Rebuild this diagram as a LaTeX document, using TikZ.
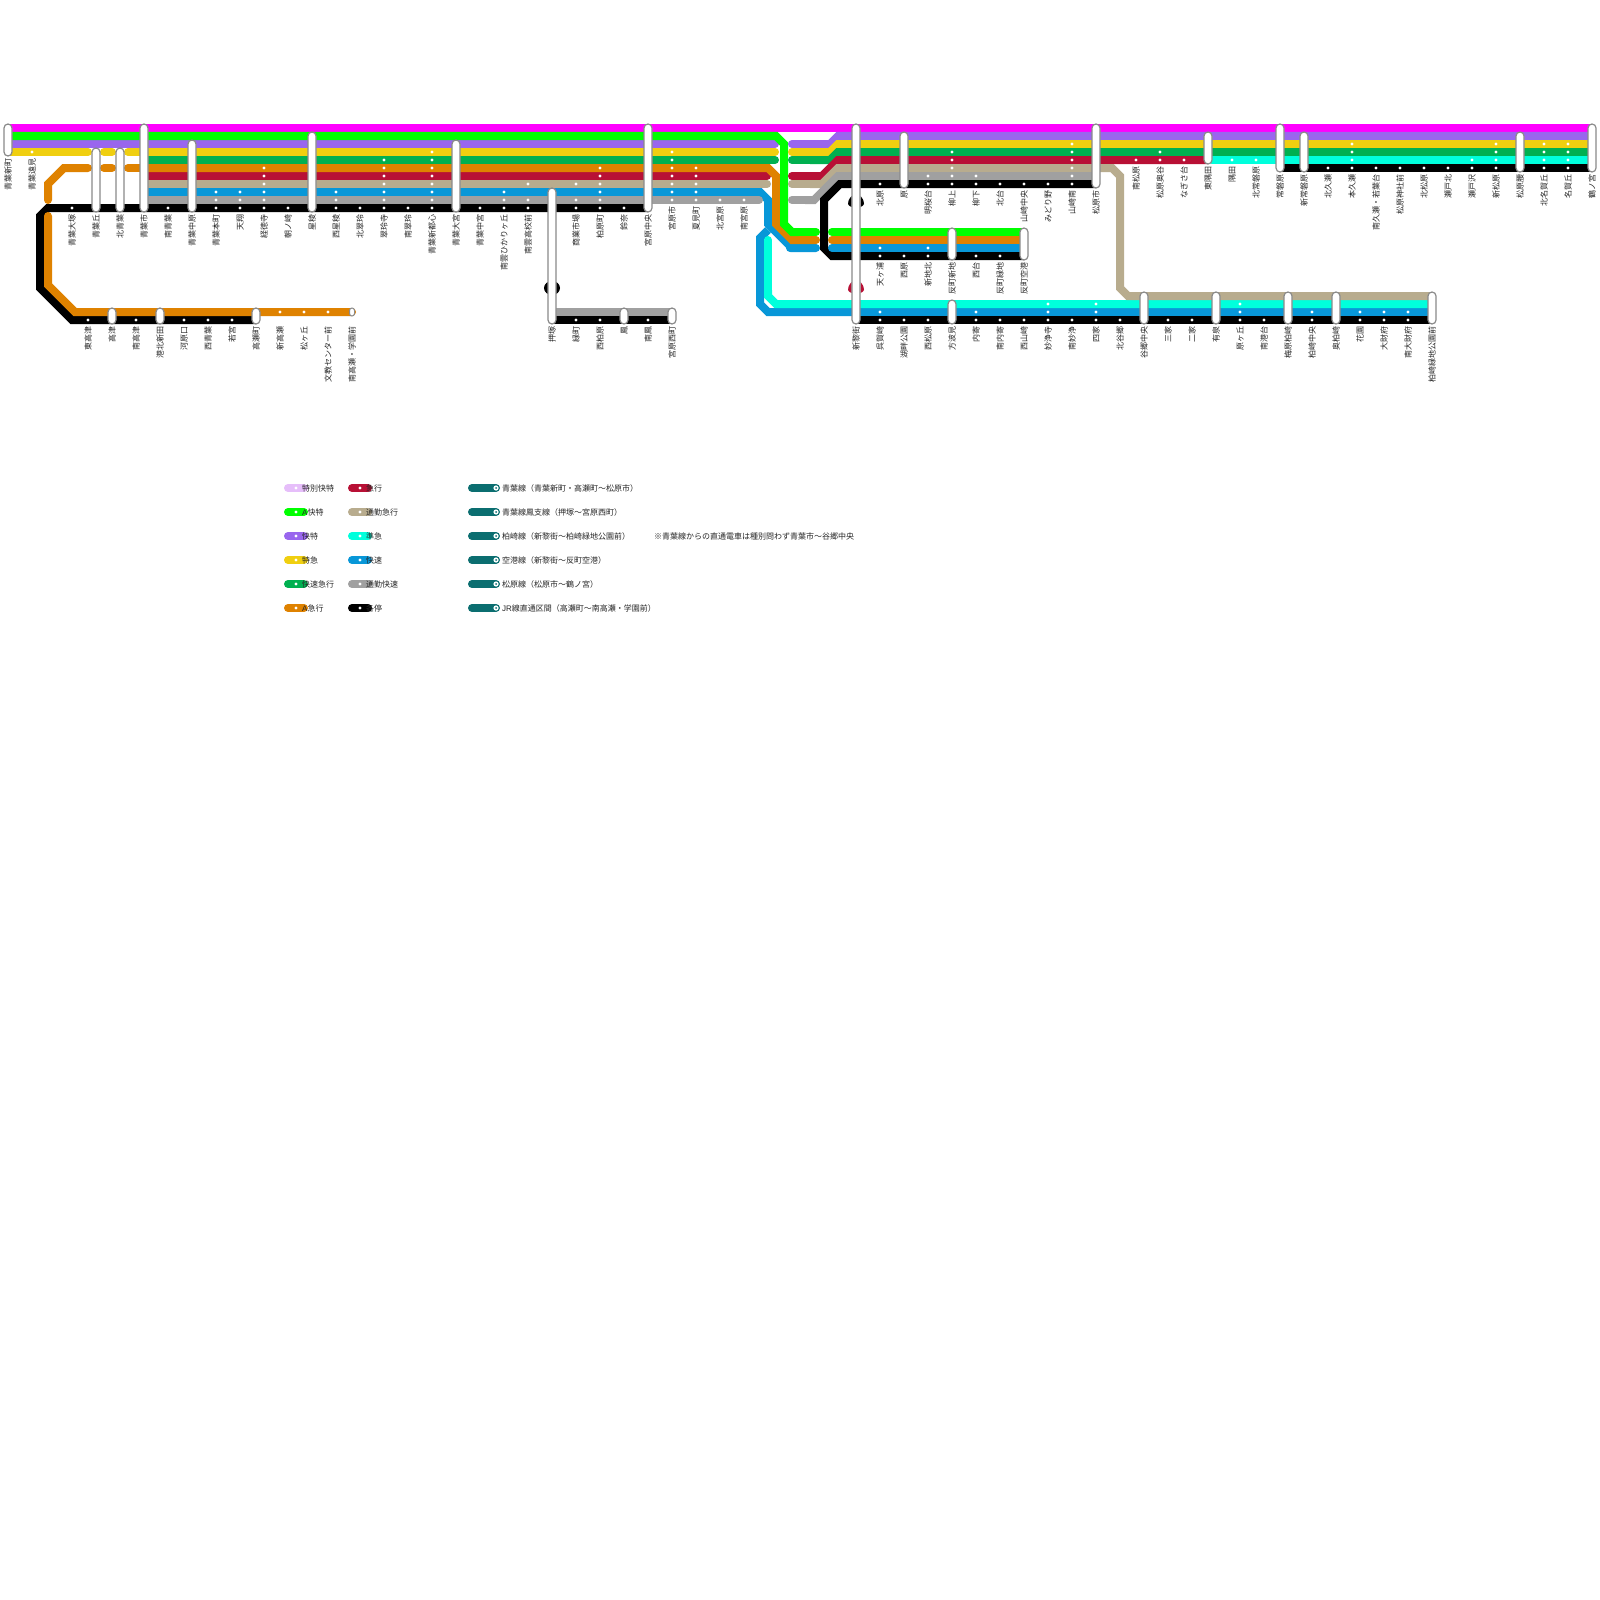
\documentclass[tikz,border=0pt]{standalone}
\usepackage{fontspec}
\setmainfont{Noto Sans CJK JP}
\newfontfamily\latf{Liberation Sans}
\definecolor{cMag}{HTML}{FF00FF}
\definecolor{cLav}{HTML}{E6BEFA}
\definecolor{cGrn}{HTML}{00FF00}
\definecolor{cPur}{HTML}{9966EE}
\definecolor{cYel}{HTML}{F0CF10}
\definecolor{cDgr}{HTML}{00B050}
\definecolor{cOra}{HTML}{DF8200}
\definecolor{cRed}{HTML}{B81035}
\definecolor{cTan}{HTML}{B8AC8E}
\definecolor{cCya}{HTML}{00FFDC}
\definecolor{cBlu}{HTML}{0897D8}
\definecolor{cGry}{HTML}{A0A0A0}
\definecolor{cTea}{HTML}{0B6E70}
\definecolor{cEdg}{HTML}{8A8A8A}
\tikzset{
  track/.style={line width=8pt,line join=miter,miter limit=4},
  rtrack/.style={track,line cap=round},
  lbl/.style={rotate=90,anchor=east,inner sep=0pt,font=\fontsize{8}{8}\selectfont,text height=7pt,text depth=1pt,text=black!85},
  leg/.style={anchor=west,inner sep=0pt,font=\fontsize{8}{8}\selectfont,text height=7pt,text depth=1pt,text=black!85},
  halt/.style={fill=white,draw=none},
  capsule/.style={fill=white,draw=cEdg,line width=1.2pt,rounded corners=4pt},
}
\newcommand{\caps}[3]{\draw[capsule] ({#1-4},#2) rectangle ({#1+4},#3);}
% crescent pair beside a capsule, centre x #1, top y #2, colour #3
\newcommand{\horns}[3]{%
  \fill[#3] ({#1-4.5},#2) .. controls ({#1-7},{#2+3}) and ({#1-8.5},{#2+6}) .. ({#1-8},{#2+8})
     .. controls ({#1-7.5},{#2+9.5}) and ({#1-6},{#2+10.5}) .. ({#1-4.5},{#2+11}) -- cycle;
  \fill[#3] ({#1+4.5},#2) .. controls ({#1+7},{#2+3}) and ({#1+8.5},{#2+6}) .. ({#1+8},{#2+8})
     .. controls ({#1+7.5},{#2+9.5}) and ({#1+6},{#2+10.5}) .. ({#1+4.5},{#2+11}) -- cycle;}
\begin{document}
\begin{tikzpicture}[x=1pt,y=-1pt]
\useasboundingbox (0,0) rectangle (1600,1600);
\fill[white] (0,0) rectangle (1600,1600);

% ---- blue + cyan junction (lowest)
\draw[track,cBlu] (744,192) -- (760,192) -- (768,200) -- (768,224) -- (792,248) -- (816,248);
\draw[rtrack,cBlu] (790,248) -- (816,248);
\draw[track,cBlu] (768,230) -- (760,238) -- (760,304) -- (768,312) -- (1432,312);
\draw[rtrack,cCya] (768,240) -- (768,296);
\draw[track,cCya] (768,290) -- (768,296) -- (776,304) -- (1432,304);

% ---- trunk
\draw[rtrack,cYel] (8,152) -- (88,152);
\draw[rtrack,cYel] (104,152) -- (112,152);
\draw[rtrack,cYel] (128,152) -- (144,152);
\draw[rtrack,cYel] (144,152) -- (775,152);
\draw[rtrack,cDgr] (144,160) -- (775,160);
\draw[track,cMag] (8,128) -- (1592,128);
\draw[track,cPur] (8,144) -- (760,144);
\draw[rtrack,cPur] (750,144) -- (775,144);
\draw[track,cRed] (144,176) -- (760,176);
\draw[rtrack,cRed] (750,176) -- (767,176);
\draw[track,cTan] (144,184) -- (760,184);
\draw[rtrack,cTan] (750,184) -- (767,184);
\draw[track,cBlu] (144,192) -- (760,192);
\draw[track,cGry] (144,200) -- (750,200);
\draw[rtrack,cGry] (740,200) -- (759,200);
\draw[track,black] (648,208) -- (48,208) -- (40,216) -- (40,288) -- (72,320) -- (256,320);
% orange, left end and bottom
\draw[rtrack,cOra] (48,200) -- (48,184) -- (64,168) -- (88,168);
\draw[rtrack,cOra] (104,168) -- (112,168);
\draw[rtrack,cOra] (128,168) -- (144,168);
\draw[track,cOra] (144,168) -- (768,168) -- (776,176) -- (776,224) -- (792,240) -- (816,240);
\draw[rtrack,cOra] (48,216) -- (48,285) -- (75,312) -- (352,312);
% green over everything in the centre
\draw[track,cGrn] (8,136) -- (776,136) -- (784,144) -- (784,224) -- (792,232) -- (816,232);
\draw[rtrack,cGrn] (800,232) -- (816,232);
\draw[rtrack,cOra] (800,240) -- (816,240);

% ---- centre to the right
\draw[rtrack,cPur] (792,144) -- (830,144);
\draw[track,cPur] (810,144) -- (830,144) -- (838,136) -- (1592,136);
\draw[rtrack,cYel] (792,152) -- (830,152);
\draw[track,cYel] (810,152) -- (830,152) -- (838,144) -- (1592,144);
\draw[rtrack,cDgr] (792,160) -- (830,160);
\draw[track,cDgr] (810,160) -- (830,160) -- (838,152) -- (1592,152);
\draw[rtrack,cRed] (792,176) -- (822,176);
\draw[track,cRed] (810,176) -- (822,176) -- (838,160) -- (1208,160);
\draw[rtrack,cTan] (792,184) -- (822,184);
\draw[track,cTan] (810,184) -- (822,184) -- (838,168) -- (1112,168) -- (1120,176) -- (1120,288) -- (1128,296) -- (1432,296);
\draw[rtrack,cGry] (792,200) -- (814,200);
\draw[track,cGry] (805,200) -- (814,200) -- (838,176) -- (1096,176);
\draw[track,black] (1096,184) -- (840,184) -- (824,200) -- (824,248) -- (832,256) -- (1024,256);
\draw[rtrack,cCya] (1212,160) -- (1240,160);
\draw[track,cCya] (1220,160) -- (1592,160);
\draw[track,black] (1280,168) -- (1592,168);

% airport line
\draw[rtrack,cGrn] (832,232) -- (850,232);
\draw[track,cGrn] (840,232) -- (1024,232);
\draw[rtrack,cOra] (832,240) -- (850,240);
\draw[track,cOra] (840,240) -- (1024,240);
\draw[rtrack,cBlu] (832,248) -- (850,248);
\draw[track,cBlu] (840,248) -- (1024,248);
% kashiwazaki black
\draw[track,black] (856,320) -- (1432,320);
% branch
\draw[track,cGry] (552,312) -- (672,312);
\draw[track,black] (552,320) -- (672,320);

% crescents behind the long capsules
\fill[black] (552,288) ellipse (8 and 7);
\horns{856}{196}{black}
\horns{856}{282}{cRed}

% ---- capsules
\foreach \x/\a/\b in {8/124/156,96/148/212,120/148/212,144/124/212,192/140/212,312/132/212,456/140/212,
  552/188/324,648/124/212,112/308/324,160/308/324,256/308/324,624/308/324,672/308/324,
  856/124/324,904/132/188,1096/124/188,1208/132/164,1280/124/172,1304/132/172,1520/132/172,1592/124/172,
  952/228/260,1024/228/260,952/300/324,1144/292/324,1216/292/324,1288/292/324,1336/292/324,1432/292/324}
  {\caps{\x}{\a}{\b}}
\draw[fill=white,draw=cEdg,line width=1pt,rounded corners=2.5pt] (349.5,308) rectangle (354.5,316);

% ---- stops
\foreach \x/\ys in {32/{152},72/{208},168/{208},216/{192,200,208},240/{192,200,208},
  264/{168,176,184,192,200,208},288/{208},336/{192,200,208},360/{208},384/{160,168,176,184,192,200,208},
  408/{208},432/{152,160,168,176,184,192,200,208},480/{208},504/{192,200,208},528/{184,200,208},
  576/{184,200,208},600/{168,176,184,192,200,208},624/{208},672/{152,160,168,176,184,192,200},
  696/{168,176,184,192,200},720/{200},744/{200},
  880/{184},928/{176,184},952/{152,160,168,176,184},976/{176,184},1000/{184},1024/{184},1048/{184},
  1072/{144,152,160,168,176,184},1136/{160},1160/{152,160},1184/{160},1232/{160},1256/{160},
  1328/{168},1352/{144,152,160,168},1376/{168},1400/{168},1424/{168},1448/{168},1472/{160,168},
  1496/{144,152,160,168},1544/{144,152,160,168},1568/{144,152,160,168}}
  {\foreach \y in \ys {\fill[halt] (\x,\y) circle (1.7);}}
\foreach \x/\ys in {880/{248,256,312,320},904/{256,320},928/{248,256,320},976/{256,312,320},1000/{256,320},1024/{320},
  1048/{304,312,320},1072/{320},1096/{304,312,320},1120/{320},1168/{320},1192/{320},1240/{304,312,320},1264/{320},
  1312/{312,320},1360/{312,320},1384/{312,320},1408/{312,320},576/{320},600/{320},648/{320},
  88/{320},136/{320},184/{320},208/{320},232/{320},280/{312},304/{312},328/{312}}
  {\foreach \y in \ys {\fill[halt] (\x,\y) circle (1.7);}}

% ---- station labels
\foreach \x/\t/\yy in {8/青葉新町/158,32/青葉遠見/158,72/青葉大塚/214,96/青葉丘/214,120/北青葉/214,144/青葉市/214,168/南青葉/214,
  192/青葉中原/214,216/青葉本町/214,240/天翔/214,264/経徳寺/214,288/朝ノ崎/214,312/星稜/214,336/西星稜/214,360/北翠玲/214,
  384/翠玲寺/214,408/南翠玲/214,432/青葉新都心/214,456/青葉大宮/214,480/青葉中宮/214,504/南雲ひかりヶ丘/214,528/南雲高校前/214,
  576/商業市場/214,600/柏原町/214,624/鈴奈/214,648/宮原中央/214,672/宮原市/206,696/夏見町/206,720/北宮原/206,744/南宮原/206,
  880/北原/190,904/原/190,928/明桜台/190,952/柳上/190,976/柳下/190,1000/北台/190,1024/山崎中央/190,1048/みどり野/190,
  1072/山崎南/190,1096/松原市/190,1136/南松原/166,1160/松原奥谷/166,1184/なぎさ台/166,1208/東隅田/166,1232/隅田/166,
  1256/北常磐原/166,1280/常磐原/174,1304/新常磐原/174,1328/北久瀬/174,1352/本久瀬/174,1376/南久瀬・若葉台/174,
  1400/松原神社前/174,1424/北松原/174,1448/瀬戸北/174,1472/瀬戸沢/174,1496/新松原/174,1520/松原腰/174,1544/北名賀丘/174,
  1568/名賀丘/174,1592/鶴ノ宮/174}
  {\node[lbl] (st\x) at (\x,\yy) {\t};}
\foreach \x/\t in {880/天ヶ浦,904/西原,928/新地北,952/反町新地,976/西台,1000/反町緑地,1024/反町空港}
  {\node[lbl] (ap\x) at (\x,262) {\t};}
\foreach \x/\t in {88/東高津,112/高津,136/南高津,160/港北新田,184/河原口,208/西青葉,232/若宮,256/高瀬町,280/新高瀬,304/松ヶ丘,
  328/文教センター前,352/南高瀬・学園前,552/押塚,576/緑町,600/西柏原,624/鳳,648/南鳳,672/宮原西町,
  856/新黎街,880/呉賀崎,904/湖畔公園,928/西松原,952/方波見,976/内寄,1000/南内寄,1024/西山崎,1048/妙浄寺,1072/南妙浄,
  1096/四家,1120/北谷郷,1144/谷郷中央,1168/三家,1192/二家,1216/有泉,1240/原ヶ丘,1264/南港台,1288/梅原柏崎,1312/柏崎中央,
  1336/奥柏崎,1360/花園,1384/大財府,1408/南大財府,1432/柏崎緑地公園前}
  {\node[lbl] (kb\x) at (\x,326) {\t};}

% ---- legend
\foreach \y/\c/\t in {488/cLav/特別快特,512/cGrn/{\latf A}快特,536/cPur/快特,560/cYel/特急,584/cDgr/快速急行,608/cOra/{\latf A}急行}
  {\draw[rtrack,\c] (288,\y) -- (304,\y);
   \fill[halt] (296,\y) circle (1.7);
   \node[leg] (la\y) at (302,\y) {\t};}
\foreach \y/\c/\t in {488/cRed/急行,512/cTan/通勤急行,536/cCya/準急,560/cBlu/快速,584/cGry/通勤快速,608/black/各停}
  {\draw[rtrack,\c] (352,\y) -- (368,\y);
   \fill[halt] (360,\y) circle (1.7);
   \node[leg] (lb\y) at (366,\y) {\t};}
\foreach \y/\t in {488/青葉線（青葉新町・高瀬町～松原市）,512/青葉線鳳支線（押塚～宮原西町）,536/柏崎線（新黎街～柏崎緑地公園前）,
  560/空港線（新黎街～反町空港）,584/松原線（松原市～鶴ノ宮）,608/{\latf JR}線直通区間（高瀬町～南高瀬・学園前）}
  {\draw[rtrack,cTea] (472,\y) -- (496,\y);
   \fill[halt] (496,\y) circle (2.6);
   \fill[cTea] (496,\y) circle (1);
   \node[leg] (lc\y) at (502,\y) {\t};}
\node[leg] (note) at (654,536) {※青葉線からの直通電車は種別問わず青葉市～谷郷中央};
\end{tikzpicture}
\end{document}
